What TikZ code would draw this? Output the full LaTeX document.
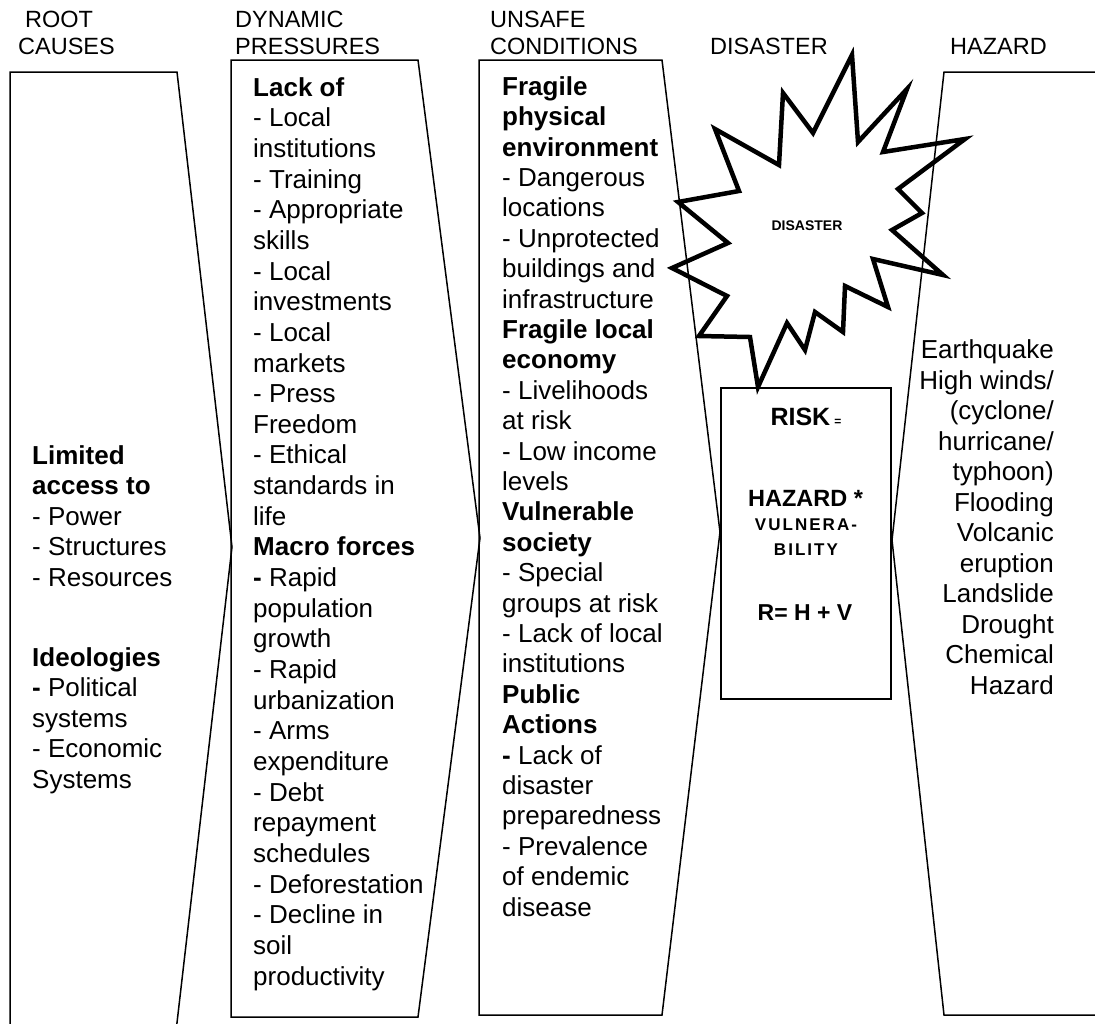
\documentclass[tikz,border=0pt]{standalone}
\usepackage{fontspec}
\setmainfont{Liberation Sans}
\begin{document}
\begin{tikzpicture}[x=1pt,y=-1pt,
  box/.style={line width=1.5pt,line join=miter},
  burst/.style={line width=4.5pt,line join=miter,miter limit=20},
  head/.style={font=\fontsize{23.5}{27}\selectfont,inner sep=0pt,anchor=base west,align=left},
  body/.style={font=\fontsize{26}{30.5}\selectfont,inner sep=0pt,anchor=base west,align=left},
  riskline/.style={font=\bfseries\fontsize{23.5}{27}\selectfont,inner sep=0pt,anchor=base}]
	\useasboundingbox (0,0) rectangle (1095,1023);
	\clip (0,0) rectangle (1095,1023);
	\draw[box] (10,1040) -- (10,72) -- (177,72) -- (232,547) -- (175,1040);
	\draw[box] (231,60) -- (418,60) -- (480,538) -- (418,1017) -- (231,1017) -- cycle;
	\draw[box] (479,60) -- (662,60) -- (720,532) -- (662,1015) -- (479,1015) -- cycle;
	\draw[box] (1110,72) -- (944,72) -- (892,540) -- (944,1015) -- (1110,1015);
	\node (risk) [box,draw,minimum width=170pt,minimum height=311pt,inner sep=0pt] at (806,543.5) {};
	\draw[burst] (852,55) -- (858,142) -- (907,89) -- (883,152) -- (965,139) -- (898,189)
	  -- (922,213) -- (892,230) -- (943,275) -- (873,259) -- (888,307) -- (845,286)
	  -- (843,332) -- (815,312) -- (805,350) -- (787,323) -- (758,387) -- (750,337)
	  -- (699,336) -- (727,296) -- (672,268) -- (728,243) -- (678,202) -- (739,191)
	  -- (715,129) -- (779,165) -- (783,93) -- (813,133) -- cycle;
	\node (burstlabel) [inner sep=0pt,anchor=base,font=\bfseries\fontsize{14}{14}\selectfont] at (807,230) {DISASTER};
	\node (hroot) [head] at (18,54) {\hspace*{7pt}ROOT\\CAUSES};
	\node (hdyn) [head] at (235,54) {DYNAMIC\\PRESSURES};
	\node (hunsafe) [head] at (490,54) {UNSAFE\\CONDITIONS};
	\node (hdis) [head] at (710,54) {DISASTER};
	\node (hhaz) [head] at (950,54) {HAZARD};
	\node (roottext) [body,font=\fontsize{26}{30.4}\selectfont] at (32,788) {\textbf{Limited}\\\textbf{access to}\\- Power\\- Structures\\- Resources\\[50pt]
	  \textbf{Ideologies}\\\textbf{-} Political\\systems\\- Economic\\Systems};
	\node (dyntext) [body,font=\fontsize{26}{30.65}\selectfont] at (253,985) {\textbf{Lack of}\\- Local\\institutions\\- Training\\- Appropriate\\skills\\- Local\\investments\\- Local\\markets\\- Press\\Freedom\\- Ethical\\standards in\\life\\
	  \textbf{Macro forces}\\\textbf{-} Rapid\\population\\growth\\- Rapid\\urbanization\\- Arms\\expenditure\\- Debt\\repayment\\schedules\\- Deforestation\\- Decline in\\soil\\productivity};
	\node (unsafetext) [body,font=\fontsize{26}{30.4}\selectfont] at (502,916) {\textbf{Fragile}\\\textbf{physical}\\\textbf{environment}\\- Dangerous\\locations\\- Unprotected\\buildings and\\infrastructure\\
	  \textbf{Fragile local}\\\textbf{economy}\\- Livelihoods\\at risk\\- Low income\\levels\\
	  \textbf{Vulnerable}\\\textbf{society}\\- Special\\groups at risk\\- Lack of local\\institutions\\
	  \textbf{Public}\\\textbf{Actions}\\\textbf{-} Lack of\\disaster\\preparedness\\- Prevalence\\of endemic\\disease};
	\node (hazardtext) [body,anchor=base east,align=right] at (1054,694) {Earthquake\\High winds/\\(cyclone/\\hurricane/\\typhoon)\\Flooding\\Volcanic\\eruption\\Landslide\\Drought\\Chemical\\Hazard};
	\node (riskeq) [riskline,font=\bfseries\fontsize{25}{27}\selectfont] at (806,425) {RISK\,{\fontsize{12}{12}\selectfont =}};
	\node (riskhaz) [riskline] at (805.5,506) {HAZARD *};
	\node (riskvul) [riskline,font=\bfseries\fontsize{17}{25}\selectfont\addfontfeature{LetterSpace=12},align=center] at (806,555) {VULNERA-\\BILITY};
	\node (riskrhv) [riskline,font=\bfseries\fontsize{23}{27}\selectfont] at (805,620) {R= H + V};
\end{tikzpicture}
\end{document}
